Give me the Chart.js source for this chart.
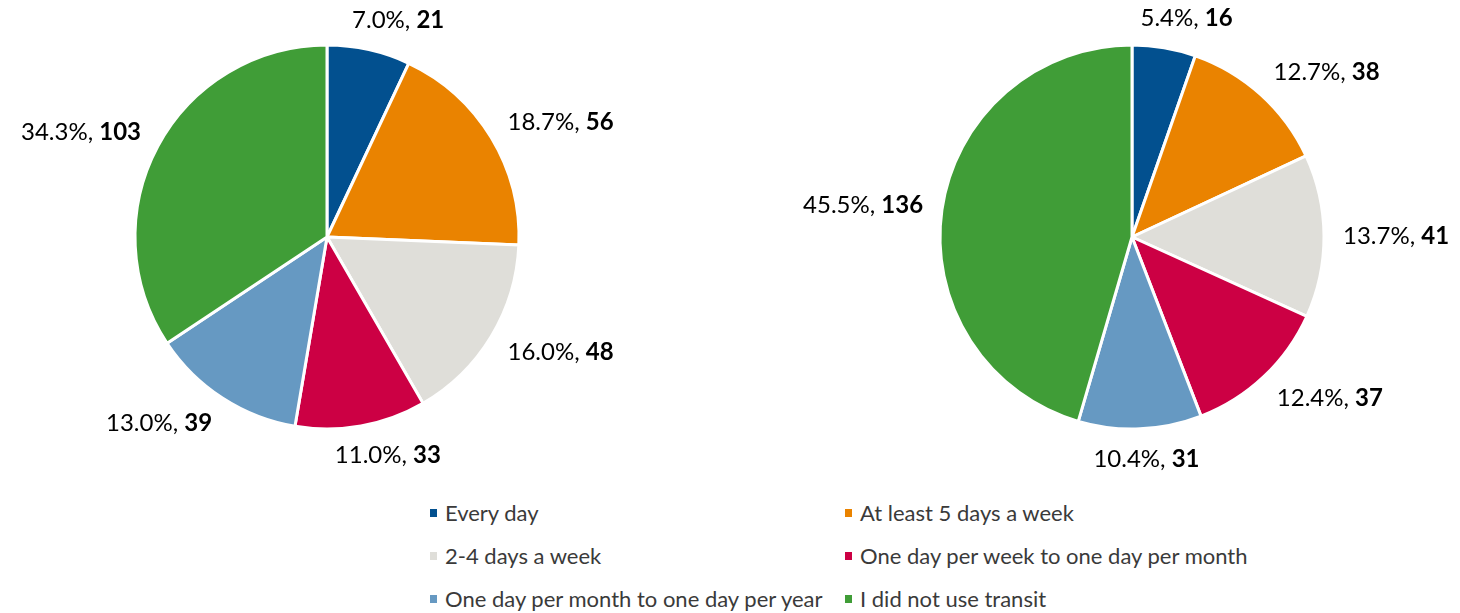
<!DOCTYPE html>
<html><head><meta charset="utf-8">
<script src="https://cdn.jsdelivr.net/npm/chart.js@4.4.1/dist/chart.umd.min.js"></script>
<style>
html,body{margin:0;padding:0;background:#fff;width:1460px;height:613px;overflow:hidden;}
#c1{position:absolute;left:0;top:0;}
#c2{position:absolute;left:730px;top:0;}
#legend{position:absolute;left:430px;top:491px;display:grid;grid-template-columns:415px auto;}
.item{display:flex;align-items:center;height:43px;font-family:Lato,sans-serif;font-size:22px;color:#3a3a3a;white-space:nowrap;}
.sw{width:7px;height:8px;margin-right:8px;flex:none;}
</style></head>
<body>
<canvas id="c1" width="730" height="490"></canvas>
<canvas id="c2" width="730" height="490"></canvas>
<div id="legend"></div>
<script>
const categories = [
  'Every day',
  'At least 5 days a week',
  '2-4 days a week',
  'One day per week to one day per month',
  'One day per month to one day per year',
  'I did not use transit'
];
const sliceColors = ['#02508F', '#EA8300', '#DFDED9', '#CC0044', '#6699C2', '#409D37'];
const valuesLeft = [21, 56, 48, 33, 39, 103];
const valuesRight = [16, 38, 41, 37, 31, 136];

const LABEL_FONT = '24px Lato, sans-serif';
const LABEL_FONT_BOLD = 'bold 24px Lato, sans-serif';
const GAP = 19;

const outLabels = {
  id: 'outLabels',
  afterDatasetsDraw(chart) {
    const ctx = chart.ctx;
    const vals = chart.data.datasets[0].data;
    const total = vals.reduce((a, b) => a + b, 0);
    const meta = chart.getDatasetMeta(0);
    ctx.save();
    ctx.fillStyle = '#000';
    ctx.textBaseline = 'middle';
    ctx.textAlign = 'left';
    meta.data.forEach((arc, i) => {
      const p = arc.getProps(['x', 'y', 'startAngle', 'endAngle', 'outerRadius'], true);
      const mid = (p.startAngle + p.endAngle) / 2;
      const dx = Math.cos(mid), dy = Math.sin(mid);
      const pct = (vals[i] / total * 100).toFixed(1) + '%, ';
      const num = String(vals[i]);
      ctx.font = LABEL_FONT;
      const w1 = ctx.measureText(pct).width;
      ctx.font = LABEL_FONT_BOLD;
      const w2 = ctx.measureText(num).width;
      const w = w1 + w2, h = 22;
      const px = p.x + (p.outerRadius + GAP) * dx;
      const py = p.y + (p.outerRadius + GAP) * dy;
      const fx = Math.max(-1, Math.min(1, dx * 2.5));
      const cx = px + fx * w / 2, cy = py + dy * h / 2;
      ctx.font = LABEL_FONT;
      ctx.fillText(pct, cx - w / 2, cy);
      ctx.font = LABEL_FONT_BOLD;
      ctx.fillText(num, cx - w / 2 + w1, cy);
    });
    ctx.restore();
  }
};

function makePie(id, values, pad) {
  return new Chart(document.getElementById(id), {
    type: 'pie',
    data: {
      labels: categories,
      datasets: [{
        data: values,
        backgroundColor: sliceColors,
        borderColor: '#ffffff',
        borderWidth: 3,
        hoverBorderWidth: 3,
        hoverOffset: 0
      }]
    },
    options: {
      responsive: false,
      devicePixelRatio: 1,
      animation: false,
      radius: 192,
      layout: { padding: pad },
      plugins: {
        legend: { display: false },
        tooltip: { enabled: false }
      }
    },
    plugins: [outLabels]
  });
}

const chartL = makePie('c1', valuesLeft, { left: 133.5, right: 209.5, top: 43.5, bottom: 59.5 });
const chartR = makePie('c2', valuesRight, { left: 208.5, right: 134.5, top: 43.5, bottom: 59.5 });

// HTML legend built from the chart's own legend items
const items = chartL.options.plugins.legend.labels.generateLabels(chartL);
const legendEl = document.getElementById('legend');
items.forEach(it => {
  const d = document.createElement('div');
  d.className = 'item';
  const sw = document.createElement('span');
  sw.className = 'sw';
  sw.style.background = it.fillStyle;
  const t = document.createElement('span');
  t.textContent = it.text;
  d.appendChild(sw);
  d.appendChild(t);
  legendEl.appendChild(d);
});
</script>
</body></html>
